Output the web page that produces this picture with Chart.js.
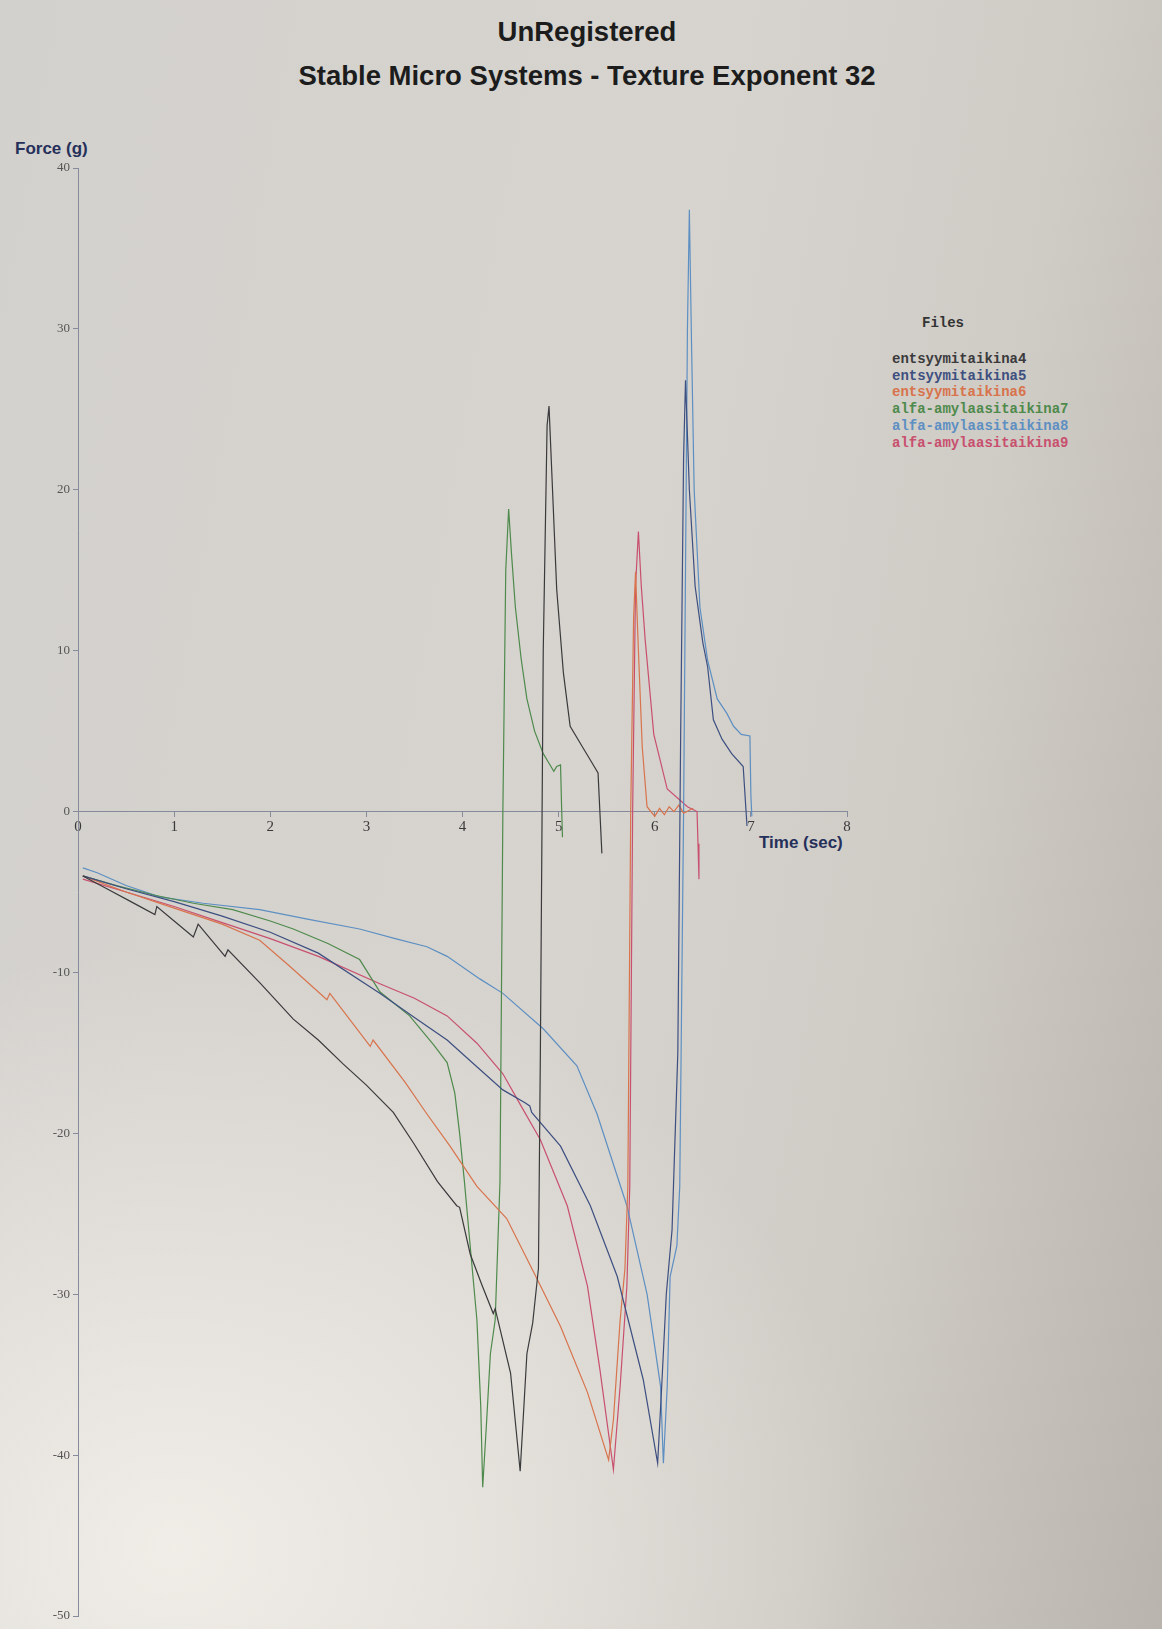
<!DOCTYPE html>
<html>
<head>
<meta charset="utf-8">
<title>Texture Exponent 32</title>
<script src="https://cdn.jsdelivr.net/npm/chart.js@4.4.1/dist/chart.umd.min.js"></script>
<style>
    html, body { margin: 0; padding: 0; }
    body {
        width: 1162px; height: 1629px; position: relative; overflow: hidden;
        background:
            radial-gradient(ellipse 700px 600px at 15% 95%, rgba(245, 242, 236, 0.85), rgba(245, 242, 236, 0) 100%),
            linear-gradient(100deg, #d3d1cd 0%, #d7d4cf 50%, #cfcbc5 75%, #b9b5ae 100%);
        font-family: "Liberation Sans", Arial, sans-serif;
    }
    #chart1 { position: absolute; left: 0; top: 0; }
    .title { position: absolute; left: 0; width: 1174px; text-align: center; font-weight: bold; font-size: 27.5px; color: #1c1c1c; }
    .axisTitle { position: absolute; font-weight: bold; font-size: 17px; color: #25305a; }
    #legend { position: absolute; left: 892px; top: 315px; font-family: "Liberation Mono", "Courier New", monospace; font-weight: bold; font-size: 14px; line-height: 16.8px; }
    #legend .head { color: #333; margin-left: 30px; margin-bottom: 19px; }
</style>
</head>
<body>
<div class="title" style="top: 16px;">UnRegistered</div>
<div class="title" style="top: 60px;">Stable Micro Systems - Texture Exponent 32</div>
<div class="axisTitle" style="left: 15px; top: 139px;">Force (g)</div>
<div class="axisTitle" style="left: 759px; top: 833px;">Time (sec)</div>
<div id="legend"></div>
<canvas id="chart1" width="1162" height="1629"></canvas>

<script>
// file names and their print colours
const fileNames = ['entsyymitaikina4', 'entsyymitaikina5', 'entsyymitaikina6',
    'alfa-amylaasitaikina7', 'alfa-amylaasitaikina8', 'alfa-amylaasitaikina9'];
const fileColors = ['#3a3a3c', '#3d4f80', '#d8734c', '#4e8a4c', '#5d8fc2', '#c8506e'];

// time (sec) / force (g)
const ent4Time = [0.05, 0.30, 0.55, 0.80, 0.82, 1.00, 1.20, 1.25, 1.53, 1.56, 1.90, 2.24, 2.50, 2.76, 3.00, 3.28, 3.49, 3.74, 3.94, 3.97,
    4.08, 4.20, 4.32, 4.34, 4.50, 4.60, 4.67, 4.73, 4.79, 4.81, 4.84, 4.88, 4.90, 4.94, 4.98, 5.05, 5.12, 5.25, 5.35, 5.41, 5.45];
const ent4Force = [-4.0, -4.8, -5.6, -6.4, -5.9, -6.8, -7.8, -7.0, -9.0, -8.6, -10.7, -12.9, -14.2, -15.7, -17.0, -18.7, -20.6, -23.0, -24.5, -24.6,
    -27.5, -29.4, -31.2, -30.9, -34.9, -41.0, -33.7, -31.8, -28.4, -15.0, 10.0, 24.0, 25.2, 19.5, 13.8, 8.6, 5.3, 4.0, 3.0, 2.4, -2.6];

const ent5Time = [0.05, 0.50, 1.00, 1.50, 2.00, 2.50, 3.14, 3.50, 3.84, 4.10, 4.42, 4.65, 4.70, 4.72, 5.02, 5.33, 5.61, 5.88, 6.03,
    6.07, 6.12, 6.18, 6.24, 6.27, 6.30, 6.32, 6.36, 6.42, 6.50, 6.55, 6.61, 6.70, 6.80, 6.92, 6.95, 6.96];
const ent5Force = [-4.0, -4.8, -5.6, -6.5, -7.5, -8.8, -11.3, -12.8, -14.2, -15.6, -17.3, -18.1, -18.3, -18.7, -20.8, -24.5, -28.9, -35.3, -40.5,
    -36.0, -30.0, -26.0, -15.0, 5.0, 22.0, 26.8, 20.0, 14.0, 10.5, 9.0, 5.7, 4.5, 3.6, 2.8, 0.0, -0.9];

const ent6Time = [0.05, 0.50, 1.00, 1.50, 1.89, 2.20, 2.59, 2.62, 3.04, 3.07, 3.40, 3.63, 3.87, 4.15, 4.46, 4.78, 5.02, 5.30, 5.52,
    5.57, 5.64, 5.69, 5.72, 5.75, 5.78, 5.80, 5.83, 5.87, 5.92, 6.00, 6.05, 6.10, 6.15, 6.20, 6.25, 6.30, 6.40];
const ent6Force = [-4.0, -5.0, -6.0, -7.0, -8.0, -9.6, -11.7, -11.3, -14.6, -14.2, -16.8, -18.8, -20.8, -23.3, -25.3, -29.1, -32.0, -36.1, -40.3,
    -37.8, -31.6, -28.4, -23.3, 0.0, 12.0, 14.9, 10.0, 4.0, 0.3, -0.3, 0.2, -0.2, 0.3, 0.0, 0.4, -0.1, 0.2];

const alfa7Time = [0.05, 0.40, 0.80, 1.20, 1.61, 2.00, 2.24, 2.60, 2.93, 3.14, 3.45, 3.70, 3.84, 3.92, 3.97, 4.02, 4.08, 4.15, 4.19, 4.21,
    4.25, 4.29, 4.34, 4.39, 4.42, 4.45, 4.48, 4.51, 4.55, 4.61, 4.67, 4.75, 4.84, 4.90, 4.95, 4.98, 5.02, 5.03, 5.04];
const alfa7Force = [-4.0, -4.6, -5.2, -5.7, -6.1, -6.8, -7.3, -8.2, -9.2, -11.2, -12.7, -14.5, -15.6, -17.5, -20.0, -23.0, -27.0, -31.6, -37.0, -42.0,
    -38.0, -33.7, -31.6, -23.0, 0.0, 15.0, 18.8, 16.0, 12.7, 9.5, 7.0, 5.0, 3.6, 3.0, 2.5, 2.8, 2.9, 0.5, -1.6];

const alfa8Time = [0.05, 0.20, 0.50, 0.85, 1.30, 1.89, 2.40, 2.93, 3.30, 3.63, 3.84, 4.18, 4.42, 4.84, 5.19, 5.40, 5.71, 5.92, 6.06, 6.09,
    6.13, 6.16, 6.23, 6.26, 6.30, 6.34, 6.36, 6.38, 6.41, 6.47, 6.55, 6.65, 6.75, 6.82, 6.90, 6.99, 7.00, 7.01];
const alfa8Force = [-3.5, -3.8, -4.6, -5.3, -5.7, -6.1, -6.7, -7.3, -7.9, -8.4, -9.0, -10.4, -11.3, -13.5, -15.8, -18.8, -24.5, -30.0, -35.7, -40.5,
    -35.7, -28.9, -27.0, -23.3, 0.0, 30.0, 37.4, 30.0, 20.0, 12.7, 9.4, 7.0, 6.1, 5.3, 4.8, 4.7, 1.0, -0.3];

const alfa9Time = [0.05, 0.50, 1.00, 1.50, 2.00, 2.50, 3.14, 3.50, 3.84, 4.15, 4.42, 4.60, 4.81, 5.09, 5.30, 5.43, 5.57,
    5.64, 5.71, 5.74, 5.77, 5.80, 5.83, 5.86, 5.90, 5.99, 6.13, 6.34, 6.44, 6.45, 6.46];
const alfa9Force = [-4.2, -5.0, -5.9, -6.9, -7.9, -9.0, -10.7, -11.6, -12.7, -14.4, -16.3, -18.2, -20.4, -24.5, -29.5, -34.7, -40.9,
    -35.7, -29.5, -23.3, 0.0, 14.0, 17.4, 14.0, 10.7, 4.8, 1.4, 0.3, 0.0, -2.0, -4.2];

const forceTicks = [-50, -40, -30, -20, -10, 0, 10, 20, 30, 40];
const timeTicks = [0, 1, 2, 3, 4, 5, 6, 7, 8];

const allTimes = [ent4Time, ent5Time, ent6Time, alfa7Time, alfa8Time, alfa9Time];
const allForces = [ent4Force, ent5Force, ent6Force, alfa7Force, alfa8Force, alfa9Force];

const toPoints = (xs, ys) => xs.map((x, i) => ({ x: x, y: ys[i] }));

const datasets = fileNames.map((name, i) => ({
    label: name,
    data: toPoints(allTimes[i], allForces[i]),
    showLine: true,
    borderColor: fileColors[i],
    borderWidth: 1.2,
    pointRadius: 0,
    fill: false,
    tension: 0
}));

// legend "Files" like on the print
const legend = document.getElementById('legend');
legend.innerHTML = '<div class="head">Files</div>' +
    fileNames.map((n, i) => '<div style="color:' + fileColors[i] + '">' + n + '</div>').join('');

const axisColor = '#858b9a';

new Chart(document.getElementById('chart1'), {
    type: 'scatter',
    data: { datasets: datasets },
    options: {
        responsive: false,
        animation: false,
        layout: { padding: { left: 28, right: 315, top: 168, bottom: 13 } },
        plugins: {
            legend: { display: false },
            title: { display: false },
            tooltip: { enabled: false }
        },
        scales: {
            x: {
                type: 'linear',
                min: timeTicks[0],
                max: timeTicks[timeTicks.length - 1],
                position: { y: 0 },
                afterBuildTicks: (scale) => { scale.ticks = timeTicks.map(v => ({ value: v })); },
                grid: { drawOnChartArea: false, drawTicks: true, tickLength: 5, color: axisColor },
                border: { display: true, color: axisColor, width: 1 },
                ticks: {
                    padding: 2,
                    color: '#3a3a3a',
                    font: { family: 'Liberation Serif', size: 15 },
                    callback: (v) => v
                }
            },
            y: {
                type: 'linear',
                min: forceTicks[0],
                max: forceTicks[forceTicks.length - 1],
                afterFit: (scale) => { scale.width = 50; },
                afterBuildTicks: (scale) => { scale.ticks = forceTicks.map(v => ({ value: v })); },
                grid: { drawOnChartArea: false, drawTicks: true, tickLength: 5, color: axisColor },
                border: { display: true, color: axisColor, width: 1 },
                ticks: {
                    padding: 3,
                    color: '#555555',
                    font: { family: 'Liberation Serif', size: 13 }
                }
            }
        }
    }
});
</script>
</body>
</html>
